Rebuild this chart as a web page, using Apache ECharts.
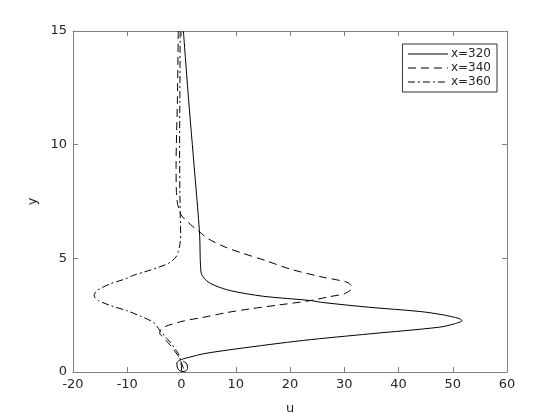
<!DOCTYPE html>
<html>
<head>
<meta charset="utf-8">
<script src="https://cdn.jsdelivr.net/npm/echarts@6/dist/echarts.min.js"></script>
<style>
  html, body { margin: 0; padding: 0; background: #fff; }
  #main { width: 560px; height: 420px; }
</style>
</head>
<body>
<div id="main"></div>
<script>
// x=320 profile (solid)
let y320 = [15, 12, 10, 8, 7, 6, 5, 4.7, 4.3, 4.0, 3.8, 3.58, 3.33, 3.14, 3.07, 2.85, 2.66, 2.51, 2.35, 2.26, 2.12, 1.97, 1.68, 1.39, 1.02, 0.80, 0.65, 0.58, 0.51, 0.40, 0.22, 0.05, 0.02, 0.15, 0.35, 0.48];
let u320 = [0.35, 1.3, 2.0, 2.7, 3.05, 3.35, 3.45, 3.5, 3.7, 4.7, 6.2, 9.0, 15.1, 24.0, 25.6, 34.5, 44.0, 48.3, 51.2, 51.7, 50.3, 47.5, 34.8, 22.5, 10.2, 4.0, 1.5, 0.35, -0.4, -0.85, -0.8, -0.3, 0.5, 1.1, 1.0, 0.3];
// x=340 profile (dashed)
let y340 = [15, 12, 10, 9, 8, 7.5, 7.2, 6.87, 6.5, 6.21, 5.85, 5.5, 5.26, 4.9, 4.53, 4.2, 3.95, 3.8, 3.68, 3.5, 3.43, 3.3, 3.14, 2.95, 2.78, 2.6, 2.45, 2.38, 2.25, 2.12, 2.0, 1.85, 1.70, 1.55, 1.3, 1.0, 0.7, 0.45, 0.2, 0.0];
let u340 = [-0.6, -0.75, -0.95, -1.0, -0.95, -0.8, -0.5, 0.05, 1.6, 3.1, 5.0, 8.0, 10.8, 15.5, 20.0, 25.5, 30.5, 31.3, 31.4, 30.5, 29.9, 27.0, 23.7, 18.0, 12.7, 8.0, 5.0, 3.4, 0.5, -1.5, -3.0, -3.9, -4.0, -3.5, -2.5, -1.5, -0.6, -0.1, 0.3, 0.5];
// x=360 profile (dash-dot)
let y360 = [15, 12, 10, 8, 6.5, 6.0, 5.6, 5.3, 5.1, 4.82, 4.6, 4.39, 4.24, 4.1, 3.87, 3.58, 3.36, 3.14, 2.9, 2.70, 2.45, 2.19, 2.0, 1.82, 1.55, 1.32, 1.05, 0.80, 0.4, 0.0];
let u360 = [-0.25, -0.3, -0.35, -0.3, -0.2, -0.15, -0.3, -0.6, -0.9, -2.1, -4.3, -7.0, -9.0, -10.3, -13.2, -15.6, -16.1, -15.3, -12.8, -10.1, -7.5, -5.2, -4.5, -3.95, -3.0, -2.1, -1.3, -0.57, -0.1, 0.05];

let names = ['x=320', 'x=340', 'x=360'];
let dashes = ['solid', [8, 5], [7, 3, 2, 3]];
let uVals = [u320, u340, u360];
let yVals = [y320, y340, y360];

function pairs(u, y) {
  return u.map(function (v, i) { return [v, y[i]]; });
}

let axisGray = '#808080';
let textCol = '#262626';

let series = names.map(function (n, k) {
  return {
    name: n,
    type: 'line',
    data: pairs(uVals[k], yVals[k]),
    showSymbol: false,
    symbol: 'none',
    smooth: 0.3,
    clip: true,
    lineStyle: { color: '#000', width: 1, type: dashes[k] },
    itemStyle: { color: '#000' }
  };
});

let option = {
  animation: false,
  backgroundColor: '#fff',
  textStyle: { fontFamily: 'DejaVu Sans' },
  grid: { left: 73, right: 53, top: 31, bottom: 47, containLabel: false },
  legend: {
    data: names,
    orient: 'vertical',
    right: 63,
    top: 44,
    padding: [3, 6, 3, 5],
    itemWidth: 40,
    itemHeight: 8,
    itemGap: 0,
    borderColor: '#333',
    borderWidth: 1,
    backgroundColor: '#fff',
    itemStyle: { opacity: 0 },
    lineStyle: { width: 1, color: '#000' },
    textStyle: { fontSize: 12, color: textCol, fontFamily: 'DejaVu Sans', lineHeight: 14, padding: [0, 0, 0, -2] }
  },
  xAxis: [{
    type: 'value', min: -20, max: 60, interval: 10,
    name: 'u', nameLocation: 'middle', nameGap: 30,
    nameTextStyle: { fontSize: 13, color: textCol },
    axisLine: { show: true, onZero: false, lineStyle: { color: axisGray } },
    axisTick: { show: true, inside: true, length: 5, lineStyle: { color: axisGray } },
    axisLabel: { fontSize: 13, color: textCol, margin: 6 },
    splitLine: { show: false }
  }, {
    type: 'value', min: -20, max: 60, interval: 10, position: 'top',
    axisLine: { show: true, onZero: false, lineStyle: { color: axisGray } },
    axisTick: { show: true, inside: true, length: 5, lineStyle: { color: axisGray } },
    axisLabel: { show: false },
    splitLine: { show: false }
  }],
  yAxis: [{
    type: 'value', min: 0, max: 15, interval: 5,
    name: 'y', nameLocation: 'middle', nameGap: 29,
    nameTextStyle: { fontSize: 13, color: textCol },
    axisLine: { show: true, onZero: false, lineStyle: { color: axisGray } },
    axisTick: { show: true, inside: true, length: 5, lineStyle: { color: axisGray } },
    axisLabel: { fontSize: 13, color: textCol, margin: 6 },
    splitLine: { show: false }
  }, {
    type: 'value', min: 0, max: 15, interval: 5, position: 'right',
    axisLine: { show: true, onZero: false, lineStyle: { color: axisGray } },
    axisTick: { show: true, inside: true, length: 5, lineStyle: { color: axisGray } },
    axisLabel: { show: false },
    splitLine: { show: false }
  }],
  series: series
};

let myChart = echarts.init(document.getElementById('main'));
myChart.setOption(option);
</script>
</body>
</html>
